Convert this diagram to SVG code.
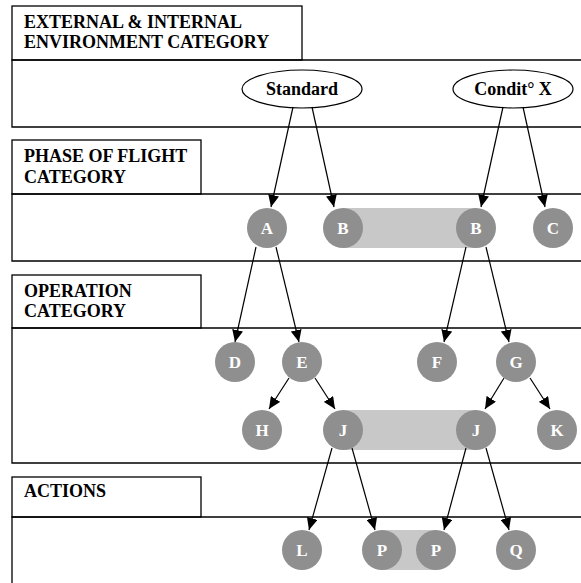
<svg xmlns="http://www.w3.org/2000/svg" width="581" height="583" viewBox="0 0 581 583">
<style>
.frame{fill:none;stroke:#000;stroke-width:1.3}
.title{font-family:"Liberation Serif","Times New Roman",serif;font-weight:bold;font-size:18px;fill:#000}
.ell{fill:#fff;stroke:#000;stroke-width:1.2}
.etxt{font-family:"Liberation Serif","Times New Roman",serif;font-weight:bold;font-size:18px;fill:#000;text-anchor:middle}
.node{fill:#8f8f8f}
.ntxt{font-family:"Liberation Serif","Times New Roman",serif;font-weight:bold;font-size:17px;fill:#fff;text-anchor:middle}
.bar{fill:#c8c8c8}
.conn{stroke:#000;stroke-width:1.2;fill:none;marker-end:url(#arr)}
</style>
<defs>
<marker id="arr" markerUnits="userSpaceOnUse" markerWidth="12" markerHeight="11" refX="12" refY="5.5" orient="auto">
<path d="M0,0 L12,5.5 L0,11 Z" fill="#000"/>
</marker>
</defs>
<rect width="581" height="583" fill="#fff"/>
<g id="lanes">
<path class="frame" d="M581,60 H12 V127 H581 M581,194 H12 V261 H581 M581,328 H12 V463 H581 M581,517 H12 V583"/>
</g>
<g id="cat-environment">
<rect class="frame" x="12" y="6" width="290" height="54"/>
<text class="title" x="24" y="28">EXTERNAL &amp; INTERNAL</text>
<text class="title" x="24" y="48">ENVIRONMENT CATEGORY</text>
</g>
<g id="cat-phase">
<rect class="frame" x="12" y="140" width="189" height="54"/>
<text class="title" x="24" y="162">PHASE OF FLIGHT</text>
<text class="title" x="24" y="183">CATEGORY</text>
</g>
<g id="cat-operation">
<rect class="frame" x="12" y="275" width="189" height="53"/>
<text class="title" x="24" y="297">OPERATION</text>
<text class="title" x="24" y="317">CATEGORY</text>
</g>
<g id="cat-actions">
<rect class="frame" x="12" y="477" width="189" height="40"/>
<text class="title" x="24" y="497">ACTIONS</text>
</g>
<g id="bars">
<rect class="bar" x="343" y="208" width="133" height="40"/>
<rect class="bar" x="343" y="410" width="133" height="40"/>
<rect class="bar" x="382" y="530" width="54" height="40"/>
</g>
<g id="standard">
<ellipse class="ell" cx="302" cy="89" rx="60" ry="19"/>
<text class="etxt" x="302" y="95">Standard</text>
</g>
<g id="conditX">
<ellipse class="ell" cx="513" cy="89" rx="60" ry="19"/>
<text class="etxt" x="513" y="95">Condit° X</text>
</g>
<g id="connectors">
<line class="conn" x1="293" y1="107" x2="271" y2="207"/>
<line class="conn" x1="312" y1="107" x2="334" y2="207"/>
<line class="conn" x1="503" y1="107" x2="481" y2="207"/>
<line class="conn" x1="523" y1="107" x2="545" y2="207"/>
<line class="conn" x1="256" y1="247" x2="235" y2="342"/>
<line class="conn" x1="276" y1="247" x2="299" y2="342"/>
<line class="conn" x1="466" y1="247" x2="444" y2="342"/>
<line class="conn" x1="486" y1="247" x2="509" y2="342"/>
<line class="conn" x1="289" y1="378" x2="269" y2="409"/>
<line class="conn" x1="315" y1="378" x2="335" y2="409"/>
<line class="conn" x1="504" y1="378" x2="485" y2="409"/>
<line class="conn" x1="530" y1="378" x2="550" y2="409"/>
<line class="conn" x1="332" y1="448" x2="309" y2="530"/>
<line class="conn" x1="352" y1="448" x2="375" y2="530"/>
<line class="conn" x1="466" y1="448" x2="444" y2="530"/>
<line class="conn" x1="486" y1="448" x2="509" y2="530"/>
</g>
<g id="node-A"><circle class="node" cx="267" cy="228" r="20"/><text class="ntxt" x="267" y="234">A</text></g>
<g id="node-B1"><circle class="node" cx="343" cy="228" r="20"/><text class="ntxt" x="343" y="234">B</text></g>
<g id="node-B2"><circle class="node" cx="476" cy="228" r="20"/><text class="ntxt" x="476" y="234">B</text></g>
<g id="node-C"><circle class="node" cx="553" cy="228" r="20"/><text class="ntxt" x="553" y="234">C</text></g>
<g id="node-D"><circle class="node" cx="235" cy="362" r="20"/><text class="ntxt" x="235" y="368">D</text></g>
<g id="node-E"><circle class="node" cx="302" cy="362" r="20"/><text class="ntxt" x="302" y="368">E</text></g>
<g id="node-F"><circle class="node" cx="437" cy="362" r="20"/><text class="ntxt" x="437" y="368">F</text></g>
<g id="node-G"><circle class="node" cx="516" cy="362" r="20"/><text class="ntxt" x="516" y="368">G</text></g>
<g id="node-H"><circle class="node" cx="262" cy="430" r="20"/><text class="ntxt" x="262" y="436">H</text></g>
<g id="node-J1"><circle class="node" cx="343" cy="430" r="20"/><text class="ntxt" x="343" y="436">J</text></g>
<g id="node-J2"><circle class="node" cx="476" cy="430" r="20"/><text class="ntxt" x="476" y="436">J</text></g>
<g id="node-K"><circle class="node" cx="557" cy="430" r="20"/><text class="ntxt" x="557" y="436">K</text></g>
<g id="node-L"><circle class="node" cx="302" cy="550" r="20"/><text class="ntxt" x="302" y="556">L</text></g>
<g id="node-P1"><circle class="node" cx="382" cy="550" r="20"/><text class="ntxt" x="382" y="556">P</text></g>
<g id="node-P2"><circle class="node" cx="436" cy="550" r="20"/><text class="ntxt" x="436" y="556">P</text></g>
<g id="node-Q"><circle class="node" cx="516" cy="550" r="20"/><text class="ntxt" x="516" y="556">Q</text></g>
</svg>
